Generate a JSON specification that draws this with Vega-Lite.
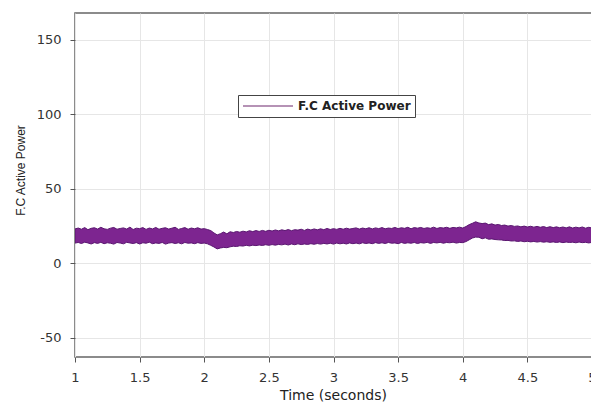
{
  "$schema": "https://vega.github.io/schema/vega-lite/v6.json",
  "autosize": {"type": "none"},
  "padding": {"left": 75, "top": 13, "right": 0, "bottom": 50},
  "width": 517,
  "height": 344,
  "background": "white",
  "config": {
    "view": {"stroke": "#666666", "strokeWidth": 1.5},
    "font": "DejaVu Sans",
    "axis": {
      "gridColor": "#e6e6e6",
      "gridWidth": 1,
      "domain": false,
      "tickColor": "#555555",
      "tickSize": 5,
      "labelFont": "DejaVu Sans",
      "labelFontSize": 13,
      "labelColor": "#333333",
      "titleColor": "#222222",
      "titleFontWeight": "normal"
    }
  },
  "data": {
    "values": [
      {"t": 1.000, "hi": 23.0, "lo": 13.5},
      {"t": 1.025, "hi": 23.6, "lo": 13.9},
      {"t": 1.050, "hi": 22.8, "lo": 13.2},
      {"t": 1.075, "hi": 23.9, "lo": 14.1},
      {"t": 1.100, "hi": 22.5, "lo": 13.6},
      {"t": 1.125, "hi": 23.4, "lo": 12.9},
      {"t": 1.150, "hi": 23.8, "lo": 13.8},
      {"t": 1.175, "hi": 22.9, "lo": 13.3},
      {"t": 1.200, "hi": 24.1, "lo": 14.0},
      {"t": 1.225, "hi": 23.1, "lo": 13.1},
      {"t": 1.250, "hi": 22.7, "lo": 13.7},
      {"t": 1.275, "hi": 23.5, "lo": 13.4},
      {"t": 1.300, "hi": 24.0, "lo": 12.8},
      {"t": 1.325, "hi": 22.8, "lo": 13.9},
      {"t": 1.350, "hi": 23.3, "lo": 13.5},
      {"t": 1.375, "hi": 23.7, "lo": 13.0},
      {"t": 1.400, "hi": 22.9, "lo": 14.0},
      {"t": 1.425, "hi": 24.2, "lo": 13.6},
      {"t": 1.450, "hi": 22.6, "lo": 13.2},
      {"t": 1.475, "hi": 23.5, "lo": 13.8},
      {"t": 1.500, "hi": 23.2, "lo": 12.9},
      {"t": 1.525, "hi": 23.9, "lo": 13.7},
      {"t": 1.550, "hi": 22.7, "lo": 13.4},
      {"t": 1.575, "hi": 23.6, "lo": 14.1},
      {"t": 1.600, "hi": 23.0, "lo": 13.1},
      {"t": 1.625, "hi": 24.0, "lo": 13.6},
      {"t": 1.650, "hi": 22.8, "lo": 13.3},
      {"t": 1.675, "hi": 23.4, "lo": 13.9},
      {"t": 1.700, "hi": 23.8, "lo": 12.8},
      {"t": 1.725, "hi": 22.9, "lo": 13.5},
      {"t": 1.750, "hi": 23.5, "lo": 13.8},
      {"t": 1.775, "hi": 24.1, "lo": 13.2},
      {"t": 1.800, "hi": 22.7, "lo": 13.7},
      {"t": 1.825, "hi": 23.3, "lo": 13.0},
      {"t": 1.850, "hi": 23.9, "lo": 13.9},
      {"t": 1.875, "hi": 22.8, "lo": 13.4},
      {"t": 1.900, "hi": 23.6, "lo": 13.6},
      {"t": 1.925, "hi": 23.1, "lo": 13.1},
      {"t": 1.950, "hi": 23.8, "lo": 13.8},
      {"t": 1.975, "hi": 22.9, "lo": 13.3},
      {"t": 2.000, "hi": 23.2, "lo": 13.5},
      {"t": 2.025, "hi": 22.6, "lo": 13.0},
      {"t": 2.050, "hi": 21.9, "lo": 12.0},
      {"t": 2.075, "hi": 20.3, "lo": 10.9},
      {"t": 2.100, "hi": 19.0, "lo": 9.6},
      {"t": 2.125, "hi": 19.8, "lo": 10.2},
      {"t": 2.150, "hi": 20.9, "lo": 10.6},
      {"t": 2.175, "hi": 19.7, "lo": 10.4},
      {"t": 2.200, "hi": 21.1, "lo": 11.0},
      {"t": 2.225, "hi": 20.6, "lo": 11.4},
      {"t": 2.250, "hi": 21.3, "lo": 11.2},
      {"t": 2.275, "hi": 20.8, "lo": 11.7},
      {"t": 2.300, "hi": 21.5, "lo": 11.5},
      {"t": 2.325, "hi": 21.0, "lo": 12.0},
      {"t": 2.350, "hi": 21.8, "lo": 11.6},
      {"t": 2.375, "hi": 21.2, "lo": 12.1},
      {"t": 2.400, "hi": 21.9, "lo": 11.8},
      {"t": 2.425, "hi": 21.3, "lo": 12.2},
      {"t": 2.450, "hi": 22.0, "lo": 11.9},
      {"t": 2.475, "hi": 21.4, "lo": 12.4},
      {"t": 2.500, "hi": 22.1, "lo": 12.0},
      {"t": 2.525, "hi": 21.6, "lo": 12.5},
      {"t": 2.550, "hi": 22.3, "lo": 12.1},
      {"t": 2.575, "hi": 21.7, "lo": 12.6},
      {"t": 2.600, "hi": 22.4, "lo": 12.3},
      {"t": 2.625, "hi": 21.9, "lo": 12.8},
      {"t": 2.650, "hi": 22.6, "lo": 12.2},
      {"t": 2.675, "hi": 21.8, "lo": 12.9},
      {"t": 2.700, "hi": 22.5, "lo": 12.4},
      {"t": 2.725, "hi": 22.2, "lo": 13.0},
      {"t": 2.750, "hi": 22.8, "lo": 12.5},
      {"t": 2.775, "hi": 22.0, "lo": 12.9},
      {"t": 2.800, "hi": 22.9, "lo": 12.6},
      {"t": 2.825, "hi": 22.3, "lo": 13.1},
      {"t": 2.850, "hi": 23.0, "lo": 12.7},
      {"t": 2.875, "hi": 22.4, "lo": 13.2},
      {"t": 2.900, "hi": 23.1, "lo": 12.8},
      {"t": 2.925, "hi": 22.5, "lo": 13.3},
      {"t": 2.950, "hi": 23.3, "lo": 12.9},
      {"t": 2.975, "hi": 22.6, "lo": 13.4},
      {"t": 3.000, "hi": 23.2, "lo": 12.8},
      {"t": 3.025, "hi": 22.7, "lo": 13.5},
      {"t": 3.050, "hi": 23.4, "lo": 13.0},
      {"t": 3.075, "hi": 22.8, "lo": 13.4},
      {"t": 3.100, "hi": 23.5, "lo": 12.9},
      {"t": 3.125, "hi": 22.9, "lo": 13.6},
      {"t": 3.150, "hi": 23.3, "lo": 13.1},
      {"t": 3.175, "hi": 23.7, "lo": 13.5},
      {"t": 3.200, "hi": 22.9, "lo": 13.0},
      {"t": 3.225, "hi": 23.6, "lo": 13.7},
      {"t": 3.250, "hi": 23.1, "lo": 13.2},
      {"t": 3.275, "hi": 23.8, "lo": 13.6},
      {"t": 3.300, "hi": 23.0, "lo": 13.1},
      {"t": 3.325, "hi": 23.7, "lo": 13.8},
      {"t": 3.350, "hi": 23.2, "lo": 13.3},
      {"t": 3.375, "hi": 23.9, "lo": 13.7},
      {"t": 3.400, "hi": 23.1, "lo": 13.2},
      {"t": 3.425, "hi": 23.6, "lo": 13.9},
      {"t": 3.450, "hi": 23.3, "lo": 13.4},
      {"t": 3.475, "hi": 24.0, "lo": 13.6},
      {"t": 3.500, "hi": 23.2, "lo": 13.1},
      {"t": 3.525, "hi": 23.8, "lo": 13.9},
      {"t": 3.550, "hi": 23.4, "lo": 13.3},
      {"t": 3.575, "hi": 24.1, "lo": 13.7},
      {"t": 3.600, "hi": 23.1, "lo": 13.4},
      {"t": 3.625, "hi": 23.9, "lo": 13.9},
      {"t": 3.650, "hi": 23.5, "lo": 13.2},
      {"t": 3.675, "hi": 24.0, "lo": 13.8},
      {"t": 3.700, "hi": 23.3, "lo": 13.5},
      {"t": 3.725, "hi": 23.8, "lo": 14.0},
      {"t": 3.750, "hi": 23.4, "lo": 13.3},
      {"t": 3.775, "hi": 24.2, "lo": 13.9},
      {"t": 3.800, "hi": 23.3, "lo": 13.6},
      {"t": 3.825, "hi": 23.9, "lo": 14.0},
      {"t": 3.850, "hi": 23.6, "lo": 13.4},
      {"t": 3.875, "hi": 24.1, "lo": 13.9},
      {"t": 3.900, "hi": 23.4, "lo": 13.7},
      {"t": 3.925, "hi": 24.0, "lo": 14.1},
      {"t": 3.950, "hi": 23.7, "lo": 13.5},
      {"t": 3.975, "hi": 24.2, "lo": 13.9},
      {"t": 4.000, "hi": 23.6, "lo": 13.8},
      {"t": 4.025, "hi": 24.6, "lo": 14.5},
      {"t": 4.050, "hi": 25.9, "lo": 15.7},
      {"t": 4.075, "hi": 26.8, "lo": 16.9},
      {"t": 4.100, "hi": 27.8, "lo": 17.5},
      {"t": 4.125, "hi": 27.0, "lo": 17.4},
      {"t": 4.150, "hi": 26.6, "lo": 16.4},
      {"t": 4.175, "hi": 26.9, "lo": 17.0},
      {"t": 4.200, "hi": 25.9, "lo": 16.1},
      {"t": 4.225, "hi": 26.4, "lo": 16.3},
      {"t": 4.250, "hi": 25.6, "lo": 15.9},
      {"t": 4.275, "hi": 26.0, "lo": 15.7},
      {"t": 4.300, "hi": 25.3, "lo": 15.6},
      {"t": 4.325, "hi": 25.6, "lo": 15.2},
      {"t": 4.350, "hi": 24.9, "lo": 15.3},
      {"t": 4.375, "hi": 25.3, "lo": 14.9},
      {"t": 4.400, "hi": 24.7, "lo": 15.0},
      {"t": 4.425, "hi": 25.0, "lo": 14.6},
      {"t": 4.450, "hi": 24.4, "lo": 14.9},
      {"t": 4.475, "hi": 24.9, "lo": 14.4},
      {"t": 4.500, "hi": 24.3, "lo": 14.7},
      {"t": 4.525, "hi": 24.8, "lo": 14.3},
      {"t": 4.550, "hi": 24.2, "lo": 14.6},
      {"t": 4.575, "hi": 24.7, "lo": 14.2},
      {"t": 4.600, "hi": 24.1, "lo": 14.5},
      {"t": 4.625, "hi": 24.6, "lo": 14.1},
      {"t": 4.650, "hi": 23.9, "lo": 14.4},
      {"t": 4.675, "hi": 24.5, "lo": 14.0},
      {"t": 4.700, "hi": 23.9, "lo": 14.3},
      {"t": 4.725, "hi": 24.4, "lo": 13.9},
      {"t": 4.750, "hi": 23.8, "lo": 14.3},
      {"t": 4.775, "hi": 24.3, "lo": 13.8},
      {"t": 4.800, "hi": 23.7, "lo": 14.2},
      {"t": 4.825, "hi": 24.4, "lo": 13.9},
      {"t": 4.850, "hi": 23.6, "lo": 14.1},
      {"t": 4.875, "hi": 24.2, "lo": 13.7},
      {"t": 4.900, "hi": 23.7, "lo": 14.2},
      {"t": 4.925, "hi": 24.3, "lo": 13.8},
      {"t": 4.950, "hi": 23.5, "lo": 14.0},
      {"t": 4.975, "hi": 24.1, "lo": 13.6},
      {"t": 5.000, "hi": 23.6, "lo": 14.0}
    ]
  },
  "mark": {"type": "area", "fillOpacity": 1, "stroke": "#5a1670", "strokeWidth": 1, "clip": true},
  "encoding": {
    "x": {
      "field": "t",
      "type": "quantitative",
      "scale": {"domain": [1, 5], "nice": false, "zero": false},
      "axis": {
        "values": [1, 1.5, 2, 2.5, 3, 3.5, 4, 4.5, 5],
        "labelExpr": "'' + datum.value",
        "labelPadding": 9,
        "labelFlush": false,
        "title": "Time (seconds)",
        "titleFont": "DejaVu Sans",
        "titleFontSize": 14,
        "titleBaseline": "alphabetic",
        "titleY": 42,
        "titleX": 258
      }
    },
    "y": {
      "field": "hi",
      "type": "quantitative",
      "scale": {"domain": [-63, 168], "nice": false, "zero": false},
      "axis": {
        "values": [-50, 0, 50, 100, 150],
        "labelExpr": "'' + datum.value",
        "labelPadding": 9,
        "labelFlush": false,
        "title": "F.C Active Power",
        "titleFont": "Liberation Sans",
        "titleFontSize": 12,
        "titleAngle": -90,
        "titleBaseline": "middle",
        "titleX": -55,
        "titleY": 157
      }
    },
    "y2": {"field": "lo"},
    "color": {
      "datum": "F.C Active Power",
      "type": "nominal",
      "scale": {"range": ["#7d2590"]},
      "legend": {
        "title": null,
        "orient": "none",
        "legendX": 163,
        "legendY": 82,
        "fillColor": "white",
        "strokeColor": "#444444",
        "padding": 4,
        "cornerRadius": 0,
        "clipHeight": 14,
        "symbolType": "stroke",
        "symbolSize": 2500,
        "symbolStrokeWidth": 2,
        "symbolStrokeColor": "#b592b5",
        "labelFont": "DejaVu Sans",
        "labelFontSize": 12,
        "labelFontWeight": "bold",
        "labelColor": "#222222",
        "labelOffset": 4
      }
    }
  }
}
